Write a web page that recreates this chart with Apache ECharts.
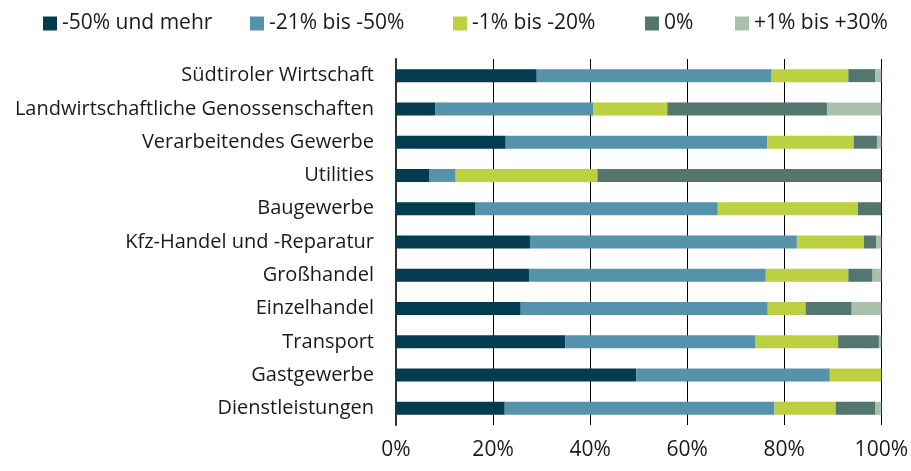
<!DOCTYPE html>
<html>
<head>
<meta charset="utf-8">
<script src="https://cdn.jsdelivr.net/npm/echarts@6/dist/echarts.min.js"></script>
<style>
    html, body {margin: 0; padding: 0; background: #fff;}
    #chart {width: 911px; height: 471px;}
</style>
</head>
<body>
<div id="chart"></div>
<script>
// Branchen (von oben nach unten)
var categories = [
    'Südtiroler Wirtschaft',
    'Landwirtschaftliche Genossenschaften',
    'Verarbeitendes Gewerbe',
    'Utilities',
    'Baugewerbe',
    'Kfz-Handel und -Reparatur',
    'Großhandel',
    'Einzelhandel',
    'Transport',
    'Gastgewerbe',
    'Dienstleistungen'
];

// Anteile je Umsatzveränderung, in %
var minus50 = [29.0, 8.1, 22.6, 6.8, 16.4, 27.6, 27.4, 25.7, 34.9, 49.5, 22.4];
var minus21to50 = [48.4, 32.6, 53.9, 5.5, 49.9, 55.0, 48.8, 50.9, 39.2, 39.9, 55.6];
var minus1to20 = [15.8, 15.2, 17.8, 29.2, 28.9, 13.8, 17.0, 7.8, 17.0, 10.6, 12.6];
var zero = [5.5, 32.9, 4.8, 58.5, 4.8, 2.5, 5.0, 9.5, 8.4, 0, 8.1];
var plus1to30 = [1.3, 11.2, 0.9, 0, 0, 1.1, 1.8, 6.1, 0.5, 0, 1.3];

var seriesNames = ['-50% und mehr', '-21% bis -50%', '-1% bis -20%', '0%', '+1% bis +30%'];
var seriesData = [minus50, minus21to50, minus1to20, zero, plus1to30];
var colors = ['#033b50', '#5592ab', '#bdd042', '#53766e', '#a9c0ab'];

var font = 'Open Sans';
var legendLeft = [38, 245, 448, 640, 730];   // Position der Legendeneinträge (inkl. 5px padding)

var series = seriesNames.map(function (name, i) {
    return {
        name: name,
        type: 'bar',
        stack: 'total',
        barWidth: 13,
        itemStyle: {color: colors[i]},
        data: seriesData[i]
    };
});

// je Eintrag eine eigene Legende, damit die Abstände passen
var legends = seriesNames.map(function (name, i) {
    return {
        data: [name],
        left: legendLeft[i],
        top: 8,
        icon: 'rect',
        itemWidth: 14,
        itemHeight: 14,
        selectedMode: false,
        textStyle: {fontSize: 21, color: '#1a1a1a', fontFamily: font}
    };
});

var option = {
    animation: false,
    textStyle: {fontFamily: font},
    color: colors,
    legend: legends,
    grid: {
        left: 396,
        right: 29,
        top: 59,
        bottom: 46,
        containLabel: false
    },
    xAxis: {
        type: 'value',
        min: 0,
        max: 100,
        interval: 20,
        axisLine: {show: false},
        axisTick: {show: false},
        splitLine: {show: true, lineStyle: {color: '#000', width: 1}},
        axisLabel: {
            formatter: '{value}%',
            fontSize: 21,
            color: '#1a1a1a',
            margin: 15
        }
    },
    yAxis: {
        type: 'category',
        inverse: true,
        data: categories,
        axisLine: {show: true, lineStyle: {color: '#333', width: 2}},
        axisTick: {show: false},
        axisLabel: {
            fontSize: 20,
            color: '#1a1a1a',
            margin: 22
        }
    },
    series: series
};

echarts.init(document.getElementById('chart')).setOption(option);
</script>
</body>
</html>
